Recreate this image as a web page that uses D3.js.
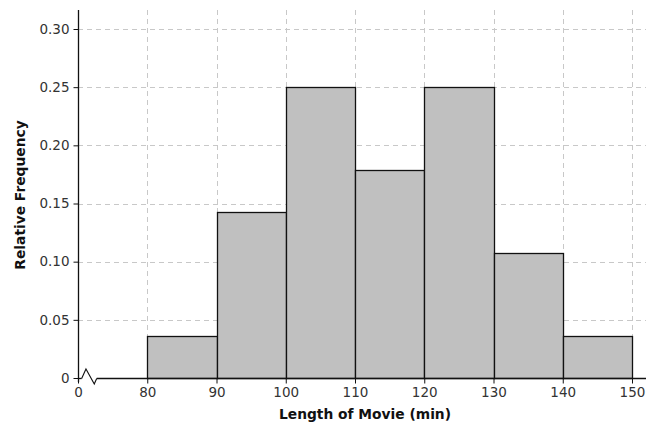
<!DOCTYPE html>
<html><head><meta charset="utf-8">
<script src="https://cdn.jsdelivr.net/npm/d3@7"></script>
<style>body{margin:0;background:#fff;} svg{display:block;}</style>
</head><body>
<svg id="c" width="646" height="425"></svg>
<script>
const binStarts = [80, 90, 100, 110, 120, 130, 140];
const binWidth = 10;
const relFreq = [1/28, 4/28, 7/28, 5/28, 7/28, 3/28, 1/28];
const xTicks = [70, 80, 90, 100, 110, 120, 130, 140, 150];
const xTickLabels = ["0", "80", "90", "100", "110", "120", "130", "140", "150"];
const yTicks = [0, 0.05, 0.10, 0.15, 0.20, 0.25, 0.30];
const yTickLabels = ["0", "0.05", "0.10", "0.15", "0.20", "0.25", "0.30"];

(function () {
const svg = d3.select("#c");
const pL = 78, pR = 646, pT = 10, pB = 378;
const x = d3.scaleLinear().domain([70, 150]).range([pL, 632]);
const y = d3.scaleLinear().domain([0, 0.30]).range([pB, 29]);
const font = "DejaVu Sans, Verdana, sans-serif";

// grid
const g = svg.append("g");
g.selectAll("line.hg").data(yTicks.slice(1)).join("line")
  .attr("x1", pL).attr("x2", pR)
  .attr("y1", d => Math.round(y(d)) + 0.5).attr("y2", d => Math.round(y(d)) + 0.5)
  .attr("stroke", "#c8c8c8").attr("stroke-dasharray", "5,4");
g.selectAll("line.vg").data(xTicks.slice(1)).join("line")
  .attr("y1", pT).attr("y2", pB)
  .attr("x1", d => Math.round(x(d)) + 0.5).attr("x2", d => Math.round(x(d)) + 0.5)
  .attr("stroke", "#c8c8c8").attr("stroke-dasharray", "5,4");

// bars
svg.selectAll("rect.bar").data(binStarts).join("rect")
  .attr("x", d => Math.round(x(d)) + 0.5)
  .attr("width", d => Math.round(x(d + binWidth)) - Math.round(x(d)))
  .attr("y", (d, i) => Math.round(y(relFreq[i])) + 0.5)
  .attr("height", (d, i) => pB - Math.round(y(relFreq[i])))
  .attr("fill", "#c0c0c0").attr("stroke", "#111").attr("stroke-width", 1.3);

// y axis
const ya = svg.append("g").attr("transform", `translate(${pL + 0.5},0)`)
  .call(d3.axisLeft(y).tickValues(yTicks).tickFormat((d, i) => yTickLabels[i]).tickSize(5).tickPadding(4));
ya.select(".domain").remove();
svg.append("line").attr("x1", pL + 0.5).attr("x2", pL + 0.5).attr("y1", pT).attr("y2", pB + 4)
  .attr("stroke", "#111").attr("stroke-width", 1.3);

// x axis
const xa = svg.append("g").attr("transform", `translate(0,${pB + 0.5})`)
  .call(d3.axisBottom(x).tickValues(xTicks).tickFormat((d, i) => xTickLabels[i]).tickSize(5).tickPadding(4));
xa.select(".domain").remove();
svg.append("line").attr("x1", pL).attr("x2", x(70.53)).attr("y1", pB + 0.5).attr("y2", pB + 0.5)
  .attr("stroke", "#111").attr("stroke-width", 1.3);
svg.append("line").attr("x1", x(72.7)).attr("x2", pR).attr("y1", pB + 0.5).attr("y2", pB + 0.5)
  .attr("stroke", "#111").attr("stroke-width", 1.3);
// break zigzag
svg.append("path")
  .attr("d", `M${x(70.53)},${pB + 0.5} L${x(71.15)},${pB - 9} L${x(72.35)},${pB + 6} L${x(72.7)},${pB + 0.5}`)
  .attr("fill", "none").attr("stroke", "#111").attr("stroke-width", 1.1);

[ya, xa].forEach(a => {
  a.selectAll("text").attr("font-family", font).attr("font-size", 13.5).attr("fill", "#333");
  a.selectAll(".tick line").attr("stroke", "#111");
});

svg.append("text").attr("x", 365).attr("y", 419).attr("text-anchor", "middle")
  .attr("font-family", font).attr("font-size", 13.8).attr("font-weight", "bold").attr("fill", "#111")
  .text("Length of Movie (min)");
svg.append("text").attr("transform", "translate(25,195) rotate(-90)").attr("text-anchor", "middle")
  .attr("font-family", font).attr("font-size", 13.8).attr("font-weight", "bold").attr("fill", "#111")
  .text("Relative Frequency");
})();
</script>
</body></html>
